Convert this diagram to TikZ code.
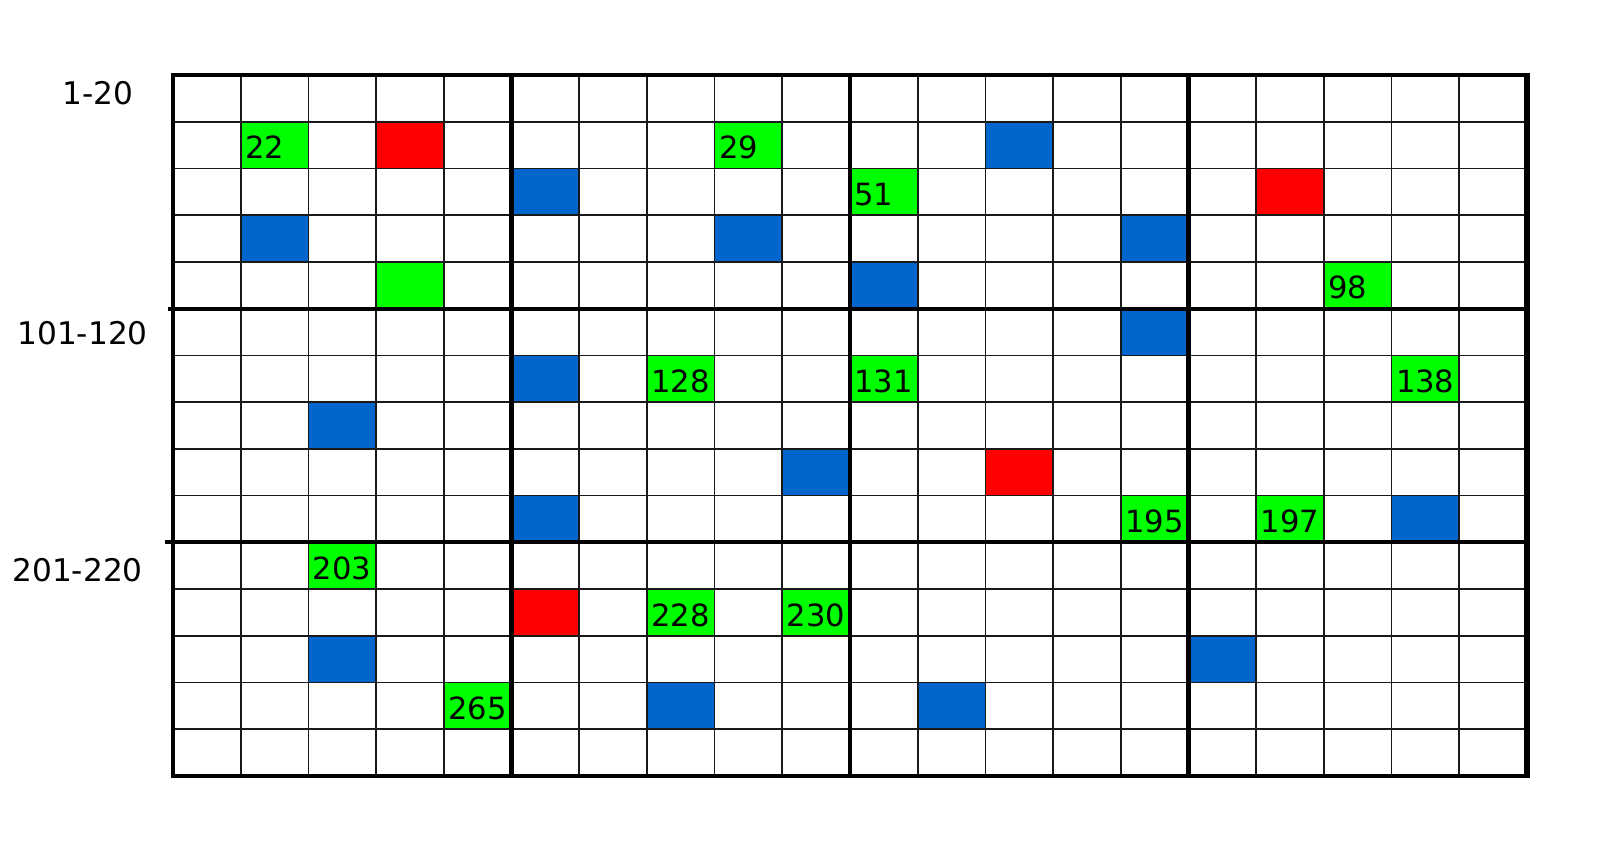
\documentclass[tikz,border=0pt]{standalone}
\usepackage{fontspec}
\setmainfont{DejaVu Sans}
\definecolor{cellgreen}{RGB}{0,255,0}
\definecolor{cellred}{RGB}{255,0,0}
\definecolor{cellblue}{RGB}{0,102,204}

\begin{document}
\begin{tikzpicture}[x=0.5pt,y=-0.5pt,
    thinline/.style={line width=0.85pt, black!90},
    thickline/.style={line width=2.1pt, black},
    numlabel/.style={anchor=base west, inner sep=0pt, font=\fontsize{15.3}{17}\selectfont},
    rowlabel/.style={anchor=base west, inner sep=0pt, font=\fontsize{15.6}{17}\selectfont}]
                \useasboundingbox (0,0) rectangle (1600,850);
                % coloured cells (column/row)
                \foreach \c/\r in {1/1,8/1,10/2,3/4,17/4,7/6,10/6,18/6,14/9,16/9,2/10,7/11,9/11,4/13}
                    \fill[cellgreen] ({173+67.7*\c},{75+46.73*\r}) rectangle +(67.7,46.73);
                \foreach \c/\r in {3/1,16/2,12/8,5/11}
                    \fill[cellred] ({173+67.7*\c},{75+46.73*\r}) rectangle +(67.7,46.73);
                \foreach \c/\r in {12/1,5/2,1/3,8/3,14/3,10/4,14/5,5/6,2/7,9/8,5/9,18/9,2/12,15/12,7/13,11/13}
                    \fill[cellblue] ({173+67.7*\c},{75+46.73*\r}) rectangle +(67.7,46.73);
                % grid
                \foreach \c in {1,...,19}
                    \draw[thinline] ({173+67.7*\c},75) -- ({173+67.7*\c},776);
                \foreach \r in {1,...,14}
                    \draw[thinline] (173,{75+46.73*\r}) -- (1527,{75+46.73*\r});
                \foreach \c in {5,10,15}
                    \draw[thickline] ({173+67.7*\c},75) -- ({173+67.7*\c},776);
                \draw[thickline] (168,{75+46.73*5}) -- (1527,{75+46.73*5});
                \draw[thickline] (165,{75+46.73*10}) -- (1527,{75+46.73*10});
                \draw[thickline] (1527,75) -- (173,75) -- (173,776) -- (1527,776);
                \draw[line width=3.3pt] (1527,73) -- (1527,778);
                % numbers in the green cells
                \foreach \c/\r/\t in {1/1/22,8/1/29,10/2/51,17/4/98,7/6/128,10/6/131,18/6/138,14/9/195,16/9/197,2/10/203,7/11/228,9/11/230,4/13/265}
                    \node[numlabel] (n\t) at ({173+67.7*\c+4},{75+46.73*\r+37}) {\t};
                \node[rowlabel] (r1) at (62,105) {1-20};
                \node[rowlabel] (r101) at (17,344) {101-120};
                \node[rowlabel] (r201) at (12,581) {201-220};
            \end{tikzpicture}
\end{document}
